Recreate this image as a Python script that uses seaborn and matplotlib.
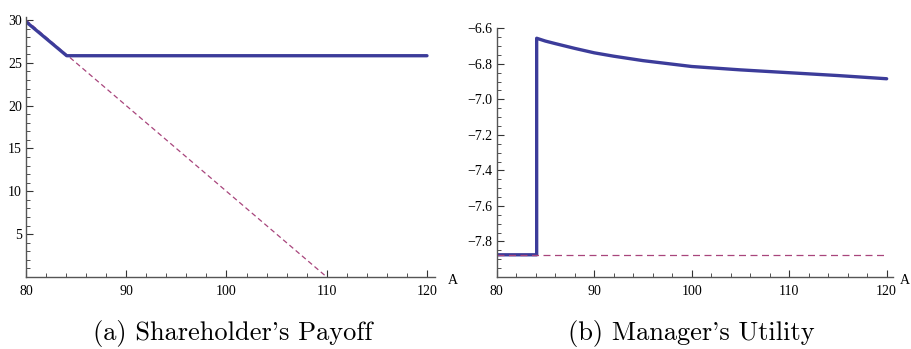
import numpy as np
import pandas as pd
import matplotlib.pyplot as plt
import seaborn as sns
from matplotlib.ticker import MultipleLocator, FixedLocator

# Data
payoff_x = [80, 84.06, 120]
payoff_y = [29.8, 25.83, 25.83]
payoff_ref_x = [80, 110]
payoff_ref_y = [30, 0]

util_x = [80, 84.1, 84.1, 85, 86, 88, 90, 92, 95, 100, 105, 110, 115, 120]
util_y = [-7.875, -7.875, -6.656, -6.672, -6.686, -6.713, -6.738, -6.757,
          -6.782, -6.815, -6.834, -6.850, -6.866, -6.884]
util_ref_x = [80, 120]
util_ref_y = [-7.875, -7.875]

x_ticks = [80, 90, 100, 110, 120]
payoff_yticks = [5, 10, 15, 20, 25, 30]
util_yticks = [-7.8, -7.6, -7.4, -7.2, -7.0, -6.8, -6.6]

blue = '#3c3c9a'
purple = '#a8457c'

sns.set_style('ticks')
plt.rcParams['font.family'] = ['Liberation Serif', 'DejaVu Serif']
plt.rcParams['text.color'] = 'black'
plt.rcParams['xtick.labelcolor'] = 'black'
plt.rcParams['ytick.labelcolor'] = 'black'

fig = plt.figure(figsize=(9.12, 3.49), dpi=100)
W, H = 912, 349

def make_ax(left, right, bottom, top):
    return fig.add_axes([left / W, 1 - bottom / H, (right - left) / W, (bottom - top) / H])

ax1 = make_ax(26, 435, 277, 17)
ax2 = make_ax(496.7, 893, 277, 28.3)

df1 = pd.DataFrame({'A': payoff_x, 'v': payoff_y})
df1r = pd.DataFrame({'A': payoff_ref_x, 'v': payoff_ref_y})
sns.lineplot(data=df1r, x='A', y='v', ax=ax1, color=purple, lw=0.9,
             linestyle=(0, (4, 2.6)), sort=False, estimator=None)
sns.lineplot(data=df1, x='A', y='v', ax=ax1, color=blue, lw=2.4,
             sort=False, estimator=None)

df2 = pd.DataFrame({'A': util_x, 'v': util_y})
df2r = pd.DataFrame({'A': util_ref_x, 'v': util_ref_y})
sns.lineplot(data=df2, x='A', y='v', ax=ax2, color=blue, lw=2.4,
             sort=False, estimator=None)
sns.lineplot(data=df2r, x='A', y='v', ax=ax2, color=purple, lw=0.9,
             linestyle=(0, (5.6, 3.6)), sort=False, estimator=None)

ax1.set_xlim(80, 120.8)
ax1.set_ylim(0, 30.35)
ax2.set_xlim(80, 120.65)
ax2.set_ylim(-8.0, -6.6)

for ax, yt, ymin_step, fmt in [(ax1, payoff_yticks, 1, '{:g}'), (ax2, util_yticks, 0.05, '{:.1f}')]:
    ax.set_xlabel('')
    ax.set_ylabel('')
    ax.xaxis.set_major_locator(FixedLocator(x_ticks))
    ax.xaxis.set_minor_locator(MultipleLocator(2))
    ax.yaxis.set_major_locator(FixedLocator(yt))
    ax.yaxis.set_minor_locator(MultipleLocator(ymin_step))
    ax.set_xticklabels([str(t) for t in x_ticks])
    ax.set_yticklabels([fmt.format(t).replace('-', '\u2212') for t in yt])
    ax.tick_params(which='major', direction='in', length=5, width=0.8,
                   labelsize=10, pad=3, color='#333333', labelcolor='black')
    ax.tick_params(axis='x', which='major', pad=5.5)
    ax.tick_params(which='minor', direction='in', length=3, width=0.6, color='#333333')
    for side in ['top', 'right']:
        ax.spines[side].set_visible(False)
    for side in ['left', 'bottom']:
        ax.spines[side].set_color('#555555')
        ax.spines[side].set_linewidth(1.0)
    ax.patch.set_alpha(0)

fig.text(448 / W, 1 - 280 / H, 'A', fontsize=10, va='center', ha='left')
fig.text(900 / W, 1 - 280 / H, 'A', fontsize=10, va='center', ha='left')

fig.text(233 / W, 1 - 340 / H, "(a) Shareholder's Payoff", family='cmr10',
         fontsize=19, ha='center', va='baseline')
fig.text(691 / W, 1 - 340 / H, "(b) Manager's Utility", family='cmr10',
         fontsize=19, ha='center', va='baseline')

fig.savefig('out.png', dpi=100)
